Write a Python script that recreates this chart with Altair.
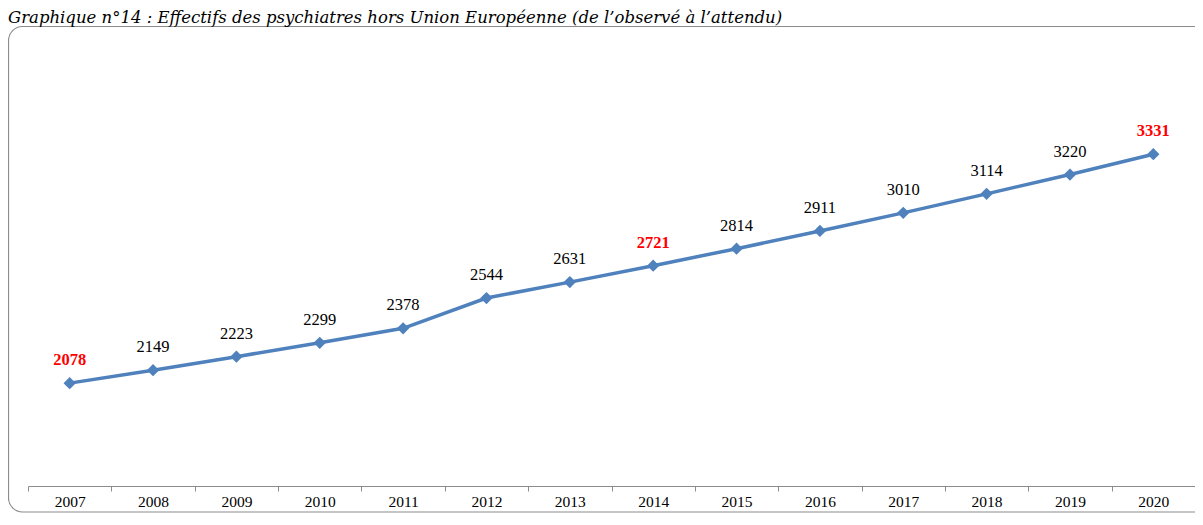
import altair as alt
import pandas as pd

years = ["2007", "2008", "2009", "2010", "2011", "2012", "2013",
         "2014", "2015", "2016", "2017", "2018", "2019", "2020"]
values = [2078, 2149, 2223, 2299, 2378, 2544, 2631,
          2721, 2814, 2911, 3010, 3114, 3220, 3331]
highlighted = ["2007", "2014", "2020"]
title_text = "Graphique n°14 : Effectifs des psychiatres hors Union Européenne (de l’observé à l’attendu)"

df = pd.DataFrame({"annee": years, "effectif": values})
df["hl"] = df["annee"].isin(highlighted)

BLUE = "#4F81BD"
W, H = 1167, 454

x_enc = alt.X("annee:N", sort=years,
              scale=alt.Scale(paddingInner=0, paddingOuter=0),
              axis=alt.Axis(title=None, tickBand="extent", labelAngle=0,
                            domainColor="#8c8c8c", tickColor="#8c8c8c",
                            tickSize=5, labelFont="Liberation Serif",
                            labelFontSize=15.5, labelColor="#000000",
                            labelPadding=3, grid=False))
y_enc = alt.Y("effectif:Q", scale=alt.Scale(domain=[1515, 4000], zero=False, nice=False),
              axis=None)

base = alt.Chart(df)

line = base.mark_line(color=BLUE, strokeWidth=3.5).encode(x=x_enc, y=y_enc)
pts = base.mark_point(shape="diamond", filled=True, size=150, color=BLUE, opacity=1).encode(x=x_enc, y=y_enc)

lab_norm = base.transform_filter("!datum.hl").mark_text(
    dy=-23, font="Liberation Serif", fontSize=16.5, color="#000000", baseline="middle"
).encode(x=x_enc, y=y_enc, text="effectif:Q")
lab_hl = base.transform_filter("datum.hl").mark_text(
    dy=-23, font="Liberation Serif", fontSize=16.5, fontWeight="bold", color="#FF0000", baseline="middle"
).encode(x=x_enc, y=y_enc, text="effectif:Q")

border = alt.Chart(pd.DataFrame({"t": [title_text]})).mark_rect(
    fill=None, stroke="#8c8c8c", strokeWidth=1.2, cornerRadius=14
).encode(x=alt.value(-19.5), x2=alt.value(W + 20), y=alt.value(-5.5), y2=alt.value(H + 26))

title = alt.Chart(pd.DataFrame({"t": [title_text]})).mark_text(
    align="left", baseline="alphabetic", font="DejaVu Serif", fontStyle="italic",
    fontSize=16.5, color="#000000"
).encode(x=alt.value(-20), y=alt.value(-9), text="t:N")

chart = alt.layer(border, title, line, pts, lab_norm, lab_hl).properties(
    width=W, height=H,
    autosize=alt.AutoSizeParams(type="none"),
    padding={"left": 20, "top": 24, "right": 0, "bottom": 28},
).configure_view(stroke=None)

chart.save("out.html", embed_options={"renderer": "svg", "actions": False})
